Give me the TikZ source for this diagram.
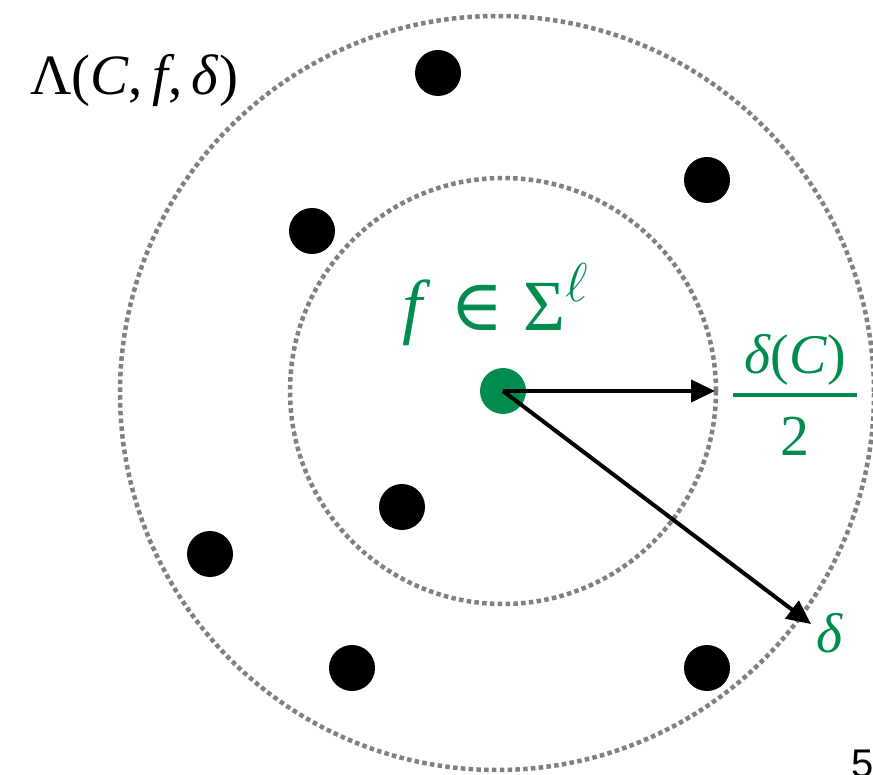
\documentclass[tikz,border=0pt]{standalone}
\usepackage{fontspec}
\usepackage{graphicx}
\setmainfont{Liberation Serif}
\newfontfamily\pagefont{Liberation Sans}
\newfontfamily\dvserif{DejaVu Serif}
\usetikzlibrary{arrows.meta}
\definecolor{grn}{RGB}{0,140,78}
\definecolor{dotgray}{RGB}{128,128,132}
\begin{document}
\begin{tikzpicture}[x=1pt,y=-1pt,
  ring/.style={draw=dotgray, line width=4.5pt, dash pattern=on 4.5pt off 3.3pt},
  blackpt/.style={circle, fill=black, inner sep=0pt, minimum size=46pt},
  greenpt/.style={circle, fill=grn, inner sep=0pt, minimum size=46pt},
  arr/.style={line width=4pt, -{Triangle[length=24pt,width=22pt]}},
  lbl/.style={inner sep=0pt, anchor=base}]
\useasboundingbox (0,0) rectangle (873,775);
% rings
\coordinate (oc) at (497,393);
\coordinate (ic) at (503,391);
\draw[ring] (oc) circle[radius=377];
\draw[ring] (ic) circle[radius=213];
% points
\node[blackpt] (p1) at (438,73) {};
\node[blackpt] (p2) at (707,180) {};
\node[blackpt] (p3) at (312,231) {};
\node[blackpt] (p4) at (402,507) {};
\node[blackpt] (p5) at (210,554) {};
\node[blackpt] (p6) at (352,668) {};
\node[blackpt] (p7) at (707,668) {};
\node[greenpt] (f) at (503,391) {};
% arrows
\coordinate (r1) at (715,391);
\coordinate (r2) at (811,624);
\draw[arr] (f.center) -- (r1);
\draw[arr] (f.center) -- (r2);
% labels
\node[lbl, anchor=base west] (lam) at (30,95)
  {\fontsize{57}{60}\selectfont Λ(\textit{C},\,\textit{f},\,\textit{δ})};
\node[lbl, text=grn] (fs) at (495,331)
  {\fontsize{72}{76}\selectfont \textit{f}\;{\dvserif ∈}\;Σ\raisebox{29pt}{\scalebox{2.2}{\fontsize{24}{26}\selectfont$\ell$}}};
\node[lbl, text=grn] (num) at (795,374)
  {\fontsize{56}{60}\selectfont \textit{δ}(\textit{C})};
\node[lbl, text=grn] (den) at (795,455)
  {\fontsize{58}{60}\selectfont 2};
\coordinate (barl) at (733,395);
\coordinate (barr) at (857,395);
\draw[grn, line width=4pt] (barl) -- (barr);
\node[lbl, text=grn] (dl) at (830,652)
  {\fontsize{56}{60}\selectfont \textit{δ}};
\node[lbl, anchor=base west] (pg) at (851,777)
  {\fontsize{40}{42}\selectfont\pagefont 5};
\end{tikzpicture}
\end{document}
